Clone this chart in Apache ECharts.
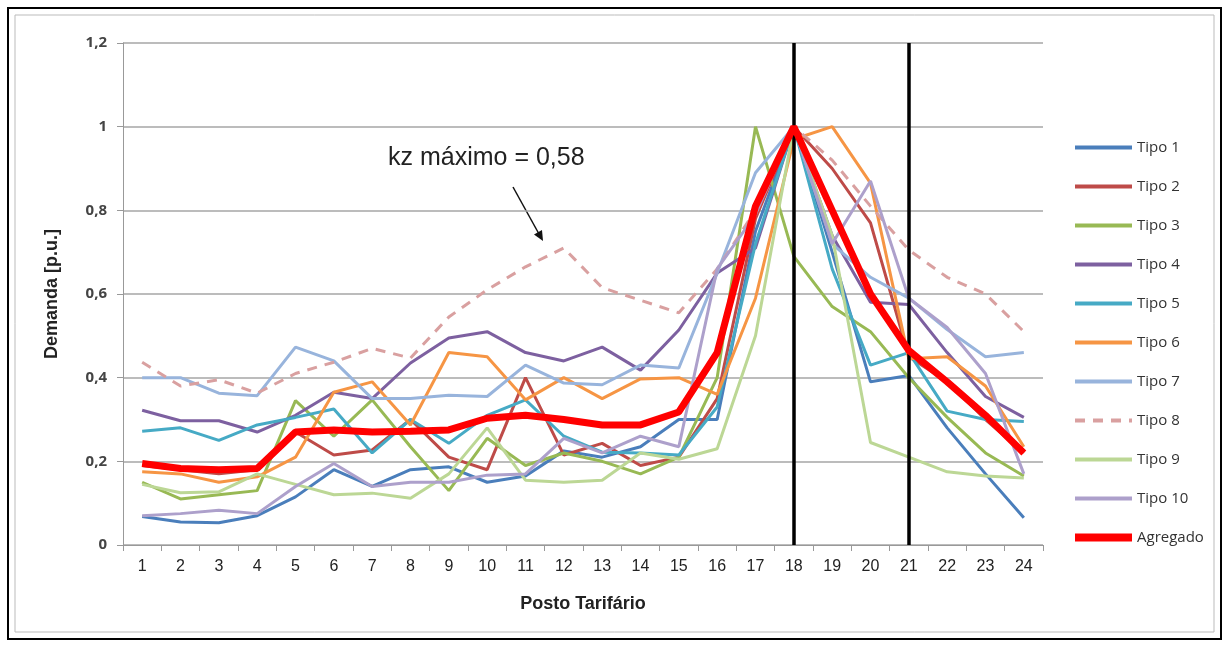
<!DOCTYPE html>
<html>
<head>
<meta charset="utf-8">
<script src="https://cdn.jsdelivr.net/npm/echarts@6/dist/echarts.min.js"></script>
<style>
  html, body { margin: 0; padding: 0; background: #fff; }
  #main { width: 1229px; height: 646px; }
</style>
</head>
<body>
<div id="main"></div>
<script>
// categories (posto tarifário)
var postos = ['1','2','3','4','5','6','7','8','9','10','11','12','13','14','15','16','17','18','19','20','21','22','23','24'];

// demand curves (p.u.)
var tipo1 = [0.068,0.055,0.053,0.07,0.115,0.18,0.14,0.18,0.187,0.15,0.165,0.225,0.21,0.235,0.30,0.30,0.75,1.0,0.70,0.39,0.405,0.28,0.17,0.065];
var tipo2 = [0.19,0.18,0.17,0.18,0.27,0.215,0.227,0.30,0.21,0.18,0.40,0.215,0.243,0.19,0.21,0.35,0.78,1.0,0.90,0.77,0.45,0.39,0.30,0.22];
var tipo3 = [0.15,0.11,0.12,0.13,0.345,0.26,0.347,0.235,0.13,0.255,0.19,0.22,0.20,0.17,0.21,0.40,1.0,0.69,0.57,0.51,0.40,0.305,0.22,0.165];
var tipo4 = [0.322,0.297,0.297,0.27,0.31,0.365,0.35,0.435,0.495,0.51,0.46,0.44,0.473,0.418,0.514,0.65,0.71,1.0,0.74,0.58,0.575,0.46,0.355,0.305];
var tipo5 = [0.272,0.28,0.25,0.287,0.305,0.325,0.22,0.30,0.243,0.31,0.347,0.26,0.222,0.22,0.215,0.33,0.72,1.0,0.66,0.43,0.46,0.32,0.30,0.295];
var tipo6 = [0.175,0.17,0.15,0.163,0.21,0.365,0.39,0.287,0.46,0.45,0.347,0.40,0.35,0.397,0.40,0.36,0.59,0.97,1.0,0.865,0.445,0.45,0.38,0.235];
var tipo7 = [0.40,0.40,0.363,0.357,0.473,0.44,0.35,0.35,0.358,0.355,0.43,0.387,0.383,0.43,0.423,0.65,0.89,1.0,0.72,0.64,0.59,0.515,0.45,0.46];
var tipo8 = [0.437,0.38,0.395,0.363,0.41,0.437,0.47,0.447,0.545,0.61,0.665,0.71,0.615,0.585,0.555,0.66,0.80,1.0,0.92,0.81,0.705,0.64,0.60,0.51];
var tipo9 = [0.145,0.125,0.127,0.17,0.145,0.12,0.124,0.112,0.17,0.28,0.155,0.15,0.155,0.22,0.205,0.23,0.50,1.0,0.74,0.245,0.21,0.175,0.165,0.16];
var tipo10 = [0.07,0.075,0.083,0.075,0.14,0.195,0.14,0.15,0.15,0.167,0.17,0.255,0.22,0.26,0.235,0.66,0.79,1.0,0.72,0.87,0.59,0.52,0.41,0.17];
var agregado = [0.195,0.183,0.18,0.183,0.27,0.275,0.27,0.272,0.275,0.303,0.31,0.30,0.287,0.287,0.318,0.46,0.81,1.0,0.80,0.60,0.465,0.39,0.31,0.22];

var nomes = ['Tipo 1','Tipo 2','Tipo 3','Tipo 4','Tipo 5','Tipo 6','Tipo 7','Tipo 8','Tipo 9','Tipo 10'];
var cores = ['#4A7EBB','#BE4B48','#98B954','#7D60A0','#46AAC5','#F69544','#98B4DC','#D9A0A0','#BCD795','#ADA0CB'];
var tipos = [tipo1, tipo2, tipo3, tipo4, tipo5, tipo6, tipo7, tipo8, tipo9, tipo10];

// vertical markers at postos 18 and 21
var marcadores = ['18', '21'];

var chart = echarts.init(document.getElementById('main'));

var series = tipos.map(function (d, i) {
    return {
        name: nomes[i],
        type: 'line',
        data: d,
        symbol: 'none',
        animation: false,
        lineStyle: {
            color: cores[i],
            width: 3,
            type: i === 7 ? [10, 8] : 'solid'
        },
        itemStyle: { color: cores[i] }
    };
});

series.push({
    name: 'Agregado',
    type: 'line',
    data: agregado,
    symbol: 'none',
    animation: false,
    z: 5,
    lineStyle: { color: '#FF0000', width: 7 },
    itemStyle: { color: '#FF0000' },
    markLine: {
        silent: true,
        symbol: 'none',
        label: { show: false },
        lineStyle: { color: '#000', width: 3.5, type: 'solid' },
        data: marcadores.map(function (m) { return { xAxis: m }; })
    }
});

var legendItems = nomes.map(function (n) { return { name: n }; });
legendItems.push({ name: 'Agregado', lineStyle: { width: 8 } });

chart.setOption({
    backgroundColor: '#fff',
    animation: false,
    grid: { left: 123, right: 186, top: 43, bottom: 101 },
    legend: {
        orient: 'vertical',
        left: 1066,
        top: 135,
        itemWidth: 57,
        itemHeight: 14,
        itemGap: 24,
        itemStyle: { opacity: 0 },
        lineStyle: { width: 4 },
        textStyle: { fontFamily: 'Open Sans', fontSize: 15, color: '#333' },
        data: legendItems
    },
    xAxis: {
        type: 'category',
        data: postos,
        name: 'Posto Tarifário',
        nameLocation: 'middle',
        nameGap: 50,
        nameTextStyle: { fontFamily: 'Liberation Sans Narrow, Liberation Sans', fontWeight: 'bold', fontSize: 18, color: '#222' },
        axisLine: { lineStyle: { color: '#999', width: 1 } },
        axisTick: { show: true, length: 6, lineStyle: { color: '#999' } },
        axisLabel: { fontFamily: 'Liberation Sans Narrow, Liberation Sans', fontSize: 16, color: '#222', margin: 14 }
    },
    yAxis: {
        type: 'value',
        min: 0,
        max: 1.2,
        interval: 0.2,
        name: 'Demanda [p.u.]',
        nameLocation: 'middle',
        nameGap: 62,
        nameTextStyle: { fontFamily: 'Liberation Sans Narrow, Liberation Sans', fontWeight: 'bold', fontSize: 18, color: '#222' },
        axisLine: { show: true, lineStyle: { color: '#999', width: 1 } },
        axisTick: { show: true, length: 6, lineStyle: { color: '#999' } },
        splitLine: { lineStyle: { color: '#A6A6A6', width: 1.5 } },
        axisLabel: {
            fontFamily: 'Open Sans',
            fontWeight: 'bold',
            fontSize: 15,
            color: '#444',
            margin: 16,
            formatter: function (v) { return String(Math.round(v * 10) / 10).replace('.', ','); }
        }
    },
    graphic: [
        { type: 'rect', shape: { x: 8, y: 8, width: 1213, height: 631 }, style: { fill: 'none', stroke: '#000', lineWidth: 2 }, silent: true },
        { type: 'rect', shape: { x: 15, y: 15, width: 1199, height: 617 }, style: { fill: 'none', stroke: '#bbb', lineWidth: 1 }, silent: true },
        { type: 'text', left: 388, top: 146, style: { text: 'kz máximo = 0,58', fontFamily: 'Liberation Sans Narrow, Liberation Sans', fontSize: 25, fill: '#222' } },
        { type: 'line', shape: { x1: 513, y1: 187, x2: 539, y2: 234 }, style: { stroke: '#111', lineWidth: 1.5 } },
        { type: 'polygon', shape: { points: [[543, 241], [542, 230], [534, 234.5]] }, style: { fill: '#111' } }
    ],
    series: series
});
</script>
</body>
</html>
